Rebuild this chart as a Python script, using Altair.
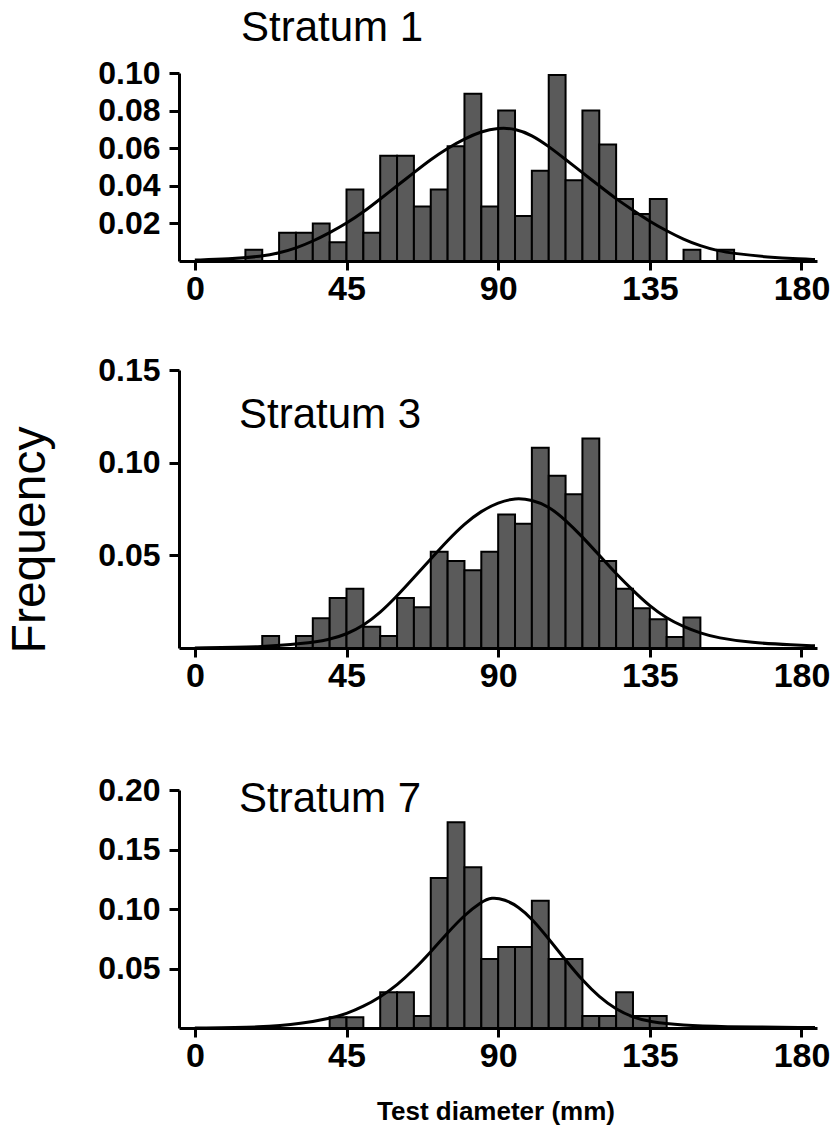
import altair as alt
import pandas as pd

# ---- data (bin start in mm, frequency); bins are 5 mm wide ----
s1_bins = [15, 25, 30, 35, 40, 45, 50, 55, 60, 65, 70, 75, 80, 85, 90, 95, 100, 105, 110, 115, 120, 125, 130, 135, 145, 155]
s1_freq = [0.006, 0.015, 0.015, 0.020, 0.010, 0.038, 0.015, 0.056, 0.056, 0.029, 0.038, 0.061, 0.089, 0.029, 0.080, 0.024, 0.048, 0.099, 0.043, 0.080, 0.062, 0.033, 0.025, 0.033, 0.006, 0.006]

s3_bins = [20, 30, 35, 40, 45, 50, 55, 60, 65, 70, 75, 80, 85, 90, 95, 100, 105, 110, 115, 120, 125, 130, 135, 140, 145]
s3_freq = [0.0065, 0.0065, 0.016, 0.027, 0.032, 0.0115, 0.0065, 0.027, 0.022, 0.052, 0.047, 0.042, 0.052, 0.072, 0.067, 0.108, 0.093, 0.083, 0.113, 0.047, 0.032, 0.0215, 0.0155, 0.006, 0.0164]

s7_bins = [40, 45, 55, 60, 65, 70, 75, 80, 85, 90, 95, 100, 105, 110, 115, 120, 125, 130, 135]
s7_freq = [0.009, 0.009, 0.030, 0.030, 0.010, 0.126, 0.173, 0.135, 0.058, 0.068, 0.068, 0.107, 0.058, 0.058, 0.010, 0.010, 0.030, 0.010, 0.010]

# fitted curves, points
c1_x = [0, 10, 20, 25, 30, 35, 40, 45, 50, 55, 60, 65, 70, 75, 80, 85, 90, 95, 100, 105, 110, 115, 120, 125, 130, 135, 140, 145, 150, 155, 160, 170, 180, 184]
c1_y = [0.0005, 0.001, 0.0025, 0.0042, 0.0068, 0.0105, 0.015, 0.020, 0.026, 0.033, 0.040, 0.047, 0.054, 0.060, 0.065, 0.069, 0.0708, 0.0705, 0.067, 0.061, 0.054, 0.047, 0.040, 0.033, 0.027, 0.021, 0.016, 0.0115, 0.008, 0.0055, 0.004, 0.002, 0.001, 0.0008]

c3_x = [0, 20, 32, 40, 45, 50, 55, 60, 65, 70, 75, 80, 85, 90, 95, 100, 105, 110, 115, 120, 125, 130, 135, 140, 145, 150, 155, 165, 178, 184]
c3_y = [0.0, 0.0005, 0.0023, 0.0045, 0.0074, 0.012, 0.019, 0.028, 0.038, 0.048, 0.058, 0.067, 0.074, 0.0785, 0.081, 0.080, 0.0765, 0.069, 0.060, 0.050, 0.040, 0.031, 0.0225, 0.016, 0.0115, 0.008, 0.0055, 0.0028, 0.0016, 0.0012]

c7_x = [0, 20, 32, 40, 45, 50, 55, 60, 65, 70, 75, 80, 85, 88, 92, 96, 100, 105, 110, 115, 120, 125, 130, 135, 145, 155, 184]
c7_y = [0.0, 0.0005, 0.0038, 0.008, 0.012, 0.018, 0.026, 0.036, 0.049, 0.064, 0.080, 0.095, 0.106, 0.110, 0.108, 0.102, 0.092, 0.075, 0.057, 0.040, 0.026, 0.0155, 0.009, 0.005, 0.0022, 0.001, 0.0004]

x_ticks = [0, 45, 90, 135, 180]
BIN = 5
FONT = "Liberation Sans"
BAR_FILL = "#5a5a5a"
W = 638
X_DOMAIN = [-4.7, 184.6]


def panel(bins, freq, cx, cy, ymax, yticks, height, label, lx, ly, extra=None):
    bars = pd.DataFrame({"start": bins, "freq": freq})
    bars["end"] = bars["start"] + BIN
    bars["base"] = 0.0
    curve = pd.DataFrame({"x": cx, "y": cy})
    xsc = alt.Scale(domain=X_DOMAIN, nice=False, zero=False)
    ysc = alt.Scale(domain=[0, ymax], nice=False)
    xax = alt.Axis(values=x_ticks, title=None, labelFontSize=34, labelFontWeight="bold",
                   labelFont=FONT, labelColor="black", tickSize=9, tickWidth=3, tickColor="black",
                   domainWidth=3, domainColor="black", grid=False, labelPadding=2, labelFlush=False)
    yax = alt.Axis(values=yticks, format=".2f", title=None, labelFontSize=32, labelFontWeight="bold",
                   labelFont=FONT, labelColor="black", tickSize=10, tickWidth=3, tickColor="black",
                   domainWidth=3, domainColor="black", grid=False, labelPadding=9)
    b = alt.Chart(bars).mark_bar(fill=BAR_FILL, stroke="black", strokeWidth=2).encode(
        x=alt.X("start:Q", scale=xsc, axis=xax),
        x2="end:Q",
        y=alt.Y("freq:Q", scale=ysc, axis=yax),
        y2="base:Q",
    )
    line = alt.Chart(curve).mark_line(color="black", strokeWidth=3, interpolate="basis").encode(
        x="x:Q", y="y:Q"
    )
    t = alt.Chart(pd.DataFrame({"t": [label]})).mark_text(
        font=FONT, fontSize=42, align="left", baseline="alphabetic", color="black"
    ).encode(text="t:N", x=alt.value(lx), y=alt.value(ly))
    layers = [b, line, t]
    if extra is not None:
        layers += extra
    return alt.layer(*layers).properties(width=W, height=height)


freq_label = alt.Chart(pd.DataFrame({"t": ["Frequency"]})).mark_text(
    font=FONT, fontSize=48, align="center", baseline="middle", angle=270, color="black"
).encode(text="t:N", x=alt.value(-148), y=alt.value(170))

x_label = alt.Chart(pd.DataFrame({"t": ["Test diameter (mm)"]})).mark_text(
    font=FONT, fontSize=26, fontWeight="bold", align="center", baseline="alphabetic", color="black"
).encode(text="t:N", x=alt.value(317), y=alt.value(330))

p1 = panel(s1_bins, s1_freq, c1_x, c1_y, 0.10, [0.02, 0.04, 0.06, 0.08, 0.10], 188, "Stratum 1", 62, -32)
p3 = panel(s3_bins, s3_freq, c3_x, c3_y, 0.15, [0.05, 0.10, 0.15], 278, "Stratum 3", 60, 58, [freq_label])
p7 = panel(s7_bins, s7_freq, c7_x, c7_y, 0.20, [0.05, 0.10, 0.15, 0.20], 238, "Stratum 7", 60, 22, [x_label])

top = alt.vconcat(p1, p3, spacing=48)
chart = alt.vconcat(top, p7, spacing=81).properties(
    padding={"left": 7, "top": 7, "right": 5, "bottom": 5}
).configure_view(stroke=None)

chart.save("out.html", embed_options={"renderer": "svg", "actions": False})
